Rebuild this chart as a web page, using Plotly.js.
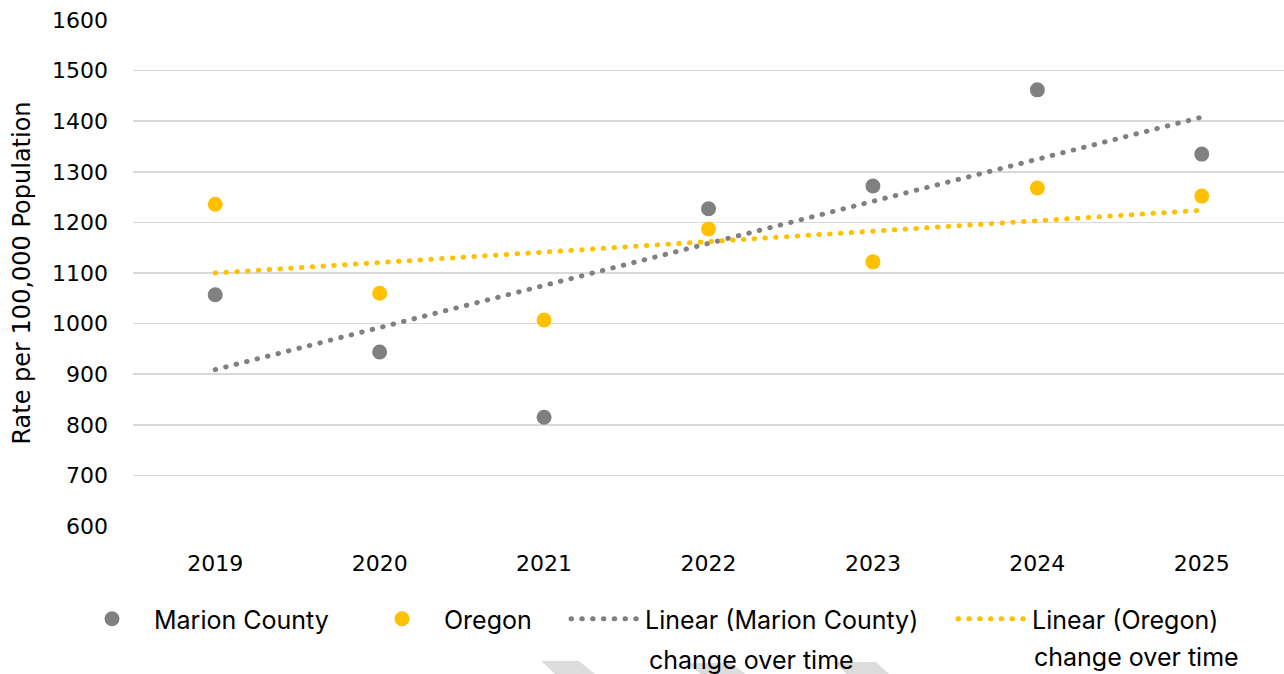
<!DOCTYPE html>
<html>
<head>
<meta charset="utf-8">
<script src="https://cdn.plot.ly/plotly-3.0.1.min.js"></script>
<style>
  html, body { margin: 0; padding: 0; background: #fff; }
  #chart { width: 1284px; height: 674px; }
  path.js-line { stroke-linecap: round; }
</style>
</head>
<body>
<div id="chart"></div>
<script>
// ---- data ----
const years = [2019, 2020, 2021, 2022, 2023, 2024, 2025];
const marionCounty = [1057, 944, 815, 1227, 1272, 1462, 1335];
const oregon = [1236, 1060, 1007, 1187, 1122, 1268, 1252];
const trendYears = [2019, 2025];
const marionTrend = [909, 1408];
const oregonTrend = [1100, 1224];
const yTicks = [600, 700, 800, 900, 1000, 1100, 1200, 1300, 1400, 1500, 1600];

const GRAY = '#808080';
const GOLD = '#FFC000';
const LFONT = 'Inter, "Liberation Sans", Arial, sans-serif';
const TFONT = '"DejaVu Sans", "Liberation Sans", Arial, sans-serif';

// plot area geometry (px) for paper conversions of decorations
const W = 1284, H = 674;
const M = { l: 133, r: 0, t: 20, b: 148 };
const PW = W - M.l - M.r, PH = H - M.t - M.b;
const px2x = px => (px - M.l) / PW;
const py2y = py => (H - M.b - py) / PH;

const DOT = '0.5px,10.3px';
const traces = [
  { x: years, y: marionCounty, name: 'Marion County', type: 'scatter', mode: 'markers',
    marker: { color: GRAY, size: 15 }, legend: 'legend' },
  { x: years, y: oregon, name: 'Oregon', type: 'scatter', mode: 'markers',
    marker: { color: GOLD, size: 15 }, legend: 'legend2' },
  { x: trendYears, y: marionTrend, name: 'Linear (Marion County)', type: 'scatter', mode: 'lines',
    line: { color: GRAY, width: 5, dash: DOT }, legend: 'legend3' },
  { x: trendYears, y: oregonTrend, name: 'Linear (Oregon)', type: 'scatter', mode: 'lines',
    line: { color: GOLD, width: 5, dash: DOT }, legend: 'legend4' }
];
// draw trend lines beneath markers
const ordered = [traces[2], traces[3], traces[0], traces[1]];

function poly(pts) {
  return 'M' + pts.map(p => px2x(p[0]) + ',' + py2y(p[1])).join(' L') + ' Z';
}
const wm = [
  [[541, 661], [579, 661], [595, 674], [555, 674]],
  [[686, 663], [730, 663], [746, 674], [701, 674]],
  [[833, 662], [876, 662], [889, 674], [847, 674]]
];

const legendBase = {
  orientation: 'h', yanchor: 'middle', xanchor: 'left',
  font: { family: LFONT, size: 25, color: '#000' },
  bgcolor: 'rgba(0,0,0,0)', borderwidth: 0
};
const legY = py2y(619);

const layout = {
  width: W, height: H,
  margin: M,
  paper_bgcolor: '#fff', plot_bgcolor: '#fff',
  showlegend: true,
  xaxis: {
    range: [2018.5, 2025.5], tickvals: years, ticktext: years.map(String),
    showgrid: false, zeroline: false, showline: false, ticks: '',
    ticklabelstandoff: 22,
    tickfont: { family: TFONT, size: 22, color: '#000' }
  },
  yaxis: {
    range: [600, 1600], tickvals: yTicks, ticktext: yTicks.map(String),
    showgrid: true, gridcolor: '#d9d9d9', gridwidth: 1.5,
    zeroline: false, showline: false, ticks: '',
    ticklabelstandoff: 24,
    tickfont: { family: TFONT, size: 22, color: '#000' },
    title: { text: 'Rate per 100,000 Population', font: { family: TFONT, size: 24, color: '#000' }, standoff: 14 }
  },
  legend: Object.assign({}, legendBase, { x: px2x(70), y: legY, itemwidth: 74 }),
  legend2: Object.assign({}, legendBase, { x: px2x(360), y: legY, itemwidth: 74 }),
  legend3: Object.assign({}, legendBase, { x: px2x(566), y: legY, itemwidth: 69 }),
  legend4: Object.assign({}, legendBase, { x: px2x(953), y: legY, itemwidth: 69 }),
  annotations: [
    { xref: 'paper', yref: 'paper', x: px2x(647), y: py2y(660), xanchor: 'left', yanchor: 'middle',
      text: 'change over time', showarrow: false, font: { family: LFONT, size: 25, color: '#000' } },
    { xref: 'paper', yref: 'paper', x: px2x(1032), y: py2y(657), xanchor: 'left', yanchor: 'middle',
      text: 'change over time', showarrow: false, font: { family: LFONT, size: 25, color: '#000' } }
  ],
  shapes: wm.map(p => ({ type: 'path', xref: 'paper', yref: 'paper', path: poly(p),
    fillcolor: '#dcdcdc', line: { width: 0 }, layer: 'below' }))
};

Plotly.newPlot('chart', ordered, layout, { displayModeBar: false, staticPlot: true });
</script>
</body>
</html>
